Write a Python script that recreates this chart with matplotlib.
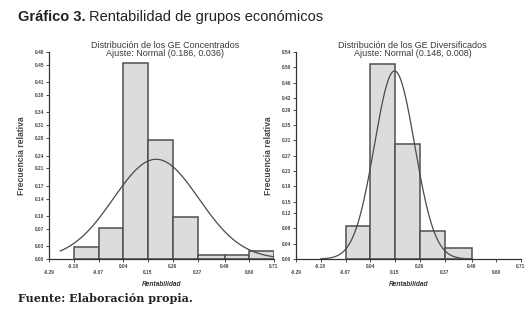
import numpy as np
import matplotlib
matplotlib.use("Agg")
import matplotlib.pyplot as plt

# ---- data ----
bin_edges = [-0.18, -0.07, 0.04, 0.15, 0.26, 0.37, 0.49, 0.60, 0.71]
conc_freq = [0.027, 0.071, 0.455, 0.276, 0.098, 0.009, 0.009, 0.019]
div_edges = [-0.07, 0.04, 0.15, 0.26, 0.37, 0.49]
div_freq = [0.086, 0.510, 0.300, 0.073, 0.029]
conc_fit = (0.186, 0.036)   # Normal(mean, variance)
div_fit = (0.148, 0.008)
x_ticks = [-0.29, -0.18, -0.07, 0.04, 0.15, 0.26, 0.37, 0.49, 0.60, 0.71]
conc_yticks = [0.00, 0.03, 0.07, 0.10, 0.14, 0.17, 0.21, 0.24, 0.28, 0.31, 0.34, 0.38, 0.41, 0.45, 0.48]
div_yticks = [0.00, 0.04, 0.08, 0.12, 0.15, 0.19, 0.23, 0.27, 0.31, 0.35, 0.39, 0.42, 0.46, 0.50, 0.54]
bin_width = 0.11

W, H = 529, 313
plt.rcParams['font.family'] = ['Liberation Sans', 'DejaVu Sans']
fig = plt.figure(figsize=(W / 100, H / 100), dpi=100)

bar_face = '#dcdcdc'
edge = '#505050'
tick_kw = dict(fontsize=3.4, fontweight='bold', color='#444444')


def panel(left_px, right_px, edges, freq, fit, yticks, title1, title2, curve_range):
    ax = fig.add_axes([left_px / W, (H - 259) / H, (right_px - left_px) / W, (259 - 52) / H])
    lefts = np.array(edges[:-1])
    widths = np.diff(edges)
    ax.bar(lefts, freq, width=widths, align='edge', color=bar_face,
           edgecolor=edge, linewidth=1.1, zorder=2)
    mu, var = fit
    sd = np.sqrt(var)
    xs = np.linspace(curve_range[0], curve_range[1], 300)
    ys = bin_width * np.exp(-0.5 * ((xs - mu) / sd) ** 2) / (sd * np.sqrt(2 * np.pi))
    ax.plot(xs, ys, color='#4a4a4a', lw=0.9, zorder=3)
    ax.set_xlim(-0.29, 0.71)
    ax.set_ylim(0, yticks[-1])
    for s in ['top', 'right']:
        ax.spines[s].set_visible(False)
    for s in ['left', 'bottom']:
        ax.spines[s].set_color('#333333')
        ax.spines[s].set_linewidth(0.9)
    ax.set_yticks(yticks)
    ax.set_yticklabels([f'{v:.2f}' for v in yticks], **tick_kw)
    ax.set_xticks(x_ticks[1::2])
    ax.set_xticklabels([f'{v:.2f}' for v in x_ticks[1::2]], **tick_kw)
    ax.set_xticks(x_ticks[0::2], minor=True)
    ax.set_xticklabels([f'{v:.2f}' for v in x_ticks[0::2]], minor=True, **tick_kw)
    ax.tick_params(axis='both', which='both', length=2, width=0.6, color='#333333', pad=1.5)
    ax.tick_params(axis='x', which='minor', pad=6)
    ax.set_xlabel('Rentabilidad', fontsize=4.8, fontweight='bold', style='italic', color='#333333', labelpad=4)
    ax.set_ylabel('Frecuencia relativa', fontsize=6.2, fontweight='bold', color='#444444', labelpad=6)
    cx = (left_px + right_px) / 2 + 4
    fig.text(cx / W, 1 - 45 / H, title1, fontsize=6.5, ha='center', va='center', color='#3a3a3a')
    fig.text(cx / W, 1 - 54 / H, title2, fontsize=6.5, ha='center', va='center', color='#3a3a3a')
    return ax


panel(49, 274, bin_edges, conc_freq, conc_fit, conc_yticks,
      'Distribución de los GE Concentrados', 'Ajuste: Normal (0.186, 0.036)', (-0.24, 0.71))
panel(296, 521, div_edges, div_freq, div_fit, div_yticks,
      'Distribución de los GE Diversificados', 'Ajuste: Normal (0.148, 0.008)', (-0.18, 0.49))

t1 = fig.text(18 / W, 1 - 17 / H, 'Gráfico 3.', fontsize=10.5, fontweight='bold',
              ha='left', va='center', color='#222222')
fig.canvas.draw()
bb = t1.get_window_extent(renderer=fig.canvas.get_renderer())
fig.text((bb.x1 + 3) / W, 1 - 17 / H, 'Rentabilidad de grupos económicos', fontsize=10.5,
         ha='left', va='center', color='#222222')
fig.text(18 / W, 1 - 298 / H, 'Fuente: Elaboración propia.', fontsize=8, fontweight='bold',
         family=['DejaVu Serif'], ha='left', va='center', color='#222222')

fig.savefig('out.png', dpi=100)
